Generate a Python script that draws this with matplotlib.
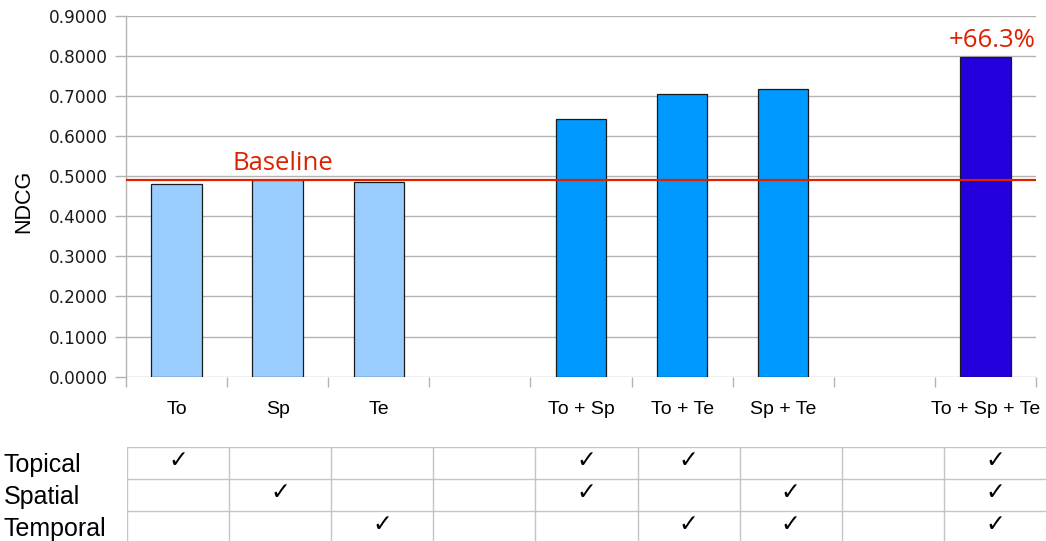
import matplotlib
matplotlib.use("Agg")
import matplotlib.pyplot as plt
from matplotlib.transforms import blended_transform_factory

# Data
categories = ["To", "Sp", "Te", "", "To + Sp", "To + Te", "Sp + Te", "", "To + Sp + Te"]
ndcg = [0.480, 0.490, 0.485, None, 0.642, 0.706, 0.7175, None, 0.798]
groups = ["single", "single", "single", None, "pair", "pair", "pair", None, "all"]
baseline_value = 0.490
improvement_label = "+66.3%"
feature_rows = ["Topical", "Spatial", "Temporal"]
feature_checks = [
    [1, 0, 0, 0, 1, 1, 0, 0, 1],
    [0, 1, 0, 0, 1, 0, 1, 0, 1],
    [0, 0, 1, 0, 0, 1, 1, 0, 1],
]
y_ticks = [0.0, 0.1, 0.2, 0.3, 0.4, 0.5, 0.6, 0.7, 0.8, 0.9]

group_colors = {"single": "#99CCFF", "pair": "#0099FF", "all": "#2300DC"}
red = "#DD2200"
grid_gray = "#B3B3B3"

W, H = 1046, 541
fig = plt.figure(figsize=(W / 100, H / 100), dpi=100)

# Main bar chart
ax = fig.add_axes([126 / W, 1 - 376.7 / H, 910 / W, 361 / H])
n = len(categories)
for i, (v, g) in enumerate(zip(ndcg, groups)):
    if v is None:
        continue
    ax.bar(i + 0.5, v, width=0.5, color=group_colors[g],
           edgecolor="#1a1a1a", linewidth=0.9, zorder=2)

ax.set_xlim(0, n)
ax.set_ylim(0, 0.9)
ax.set_yticks(y_ticks)
ax.set_yticklabels([f"{t:.4f}" for t in y_ticks])
ax.yaxis.grid(True, color=grid_gray, linewidth=1.0)
ax.set_axisbelow(True)

# Category boundaries as major ticks, labels at the slot centres
ax.set_xticks(range(n + 1))
ax.set_xticklabels([])
ax.set_xticks([i + 0.5 for i in range(n)], minor=True)
ax.set_xticklabels(categories, minor=True, fontsize=14, family="Liberation Sans")
ax.tick_params(axis="x", which="major", length=7.5, color=grid_gray, width=1.0)
ax.tick_params(axis="x", which="minor", length=0, pad=17.5)
ax.tick_params(axis="y", length=8, color=grid_gray, width=1.0, pad=5,
               labelsize=12.2)
for lab in ax.get_yticklabels():
    lab.set_family("DejaVu Sans")
    lab.set_color("#1a1a1a")

for side in ["top", "right", "bottom"]:
    ax.spines[side].set_visible(False)
ax.spines["left"].set_color(grid_gray)
ax.spines["left"].set_linewidth(1.0)

# Baseline reference line and annotations
ax.axhline(baseline_value, color=red, linewidth=1.6, zorder=3)
ax.annotate("Baseline", xy=(1.55, baseline_value), xytext=(0, 7),
            textcoords="offset points", ha="center", va="baseline",
            color=red, fontsize=18.5, family="Open Sans")
ax.annotate(improvement_label, xy=(8.5, ndcg[-1]), xytext=(4.5, 7),
            textcoords="offset points", ha="center", va="baseline",
            color=red, fontsize=18.5, family="Open Sans", annotation_clip=False)

fig.text(24 / W, 1 - 201 / H, "NDCG", rotation=90, ha="center", va="center",
         fontsize=15.5, family="Liberation Sans")

# Feature table below the chart
tab = fig.add_axes([127 / W, 1 - 543 / H, (W - 127) / W, 96.3 / H])
tab.set_xlim(0, n)
tab.set_ylim(len(feature_rows), 0)
tab.axis("off")
table_gray = "#C4C4C4"
for r in range(len(feature_rows)):
    tab.axhline(r, color=table_gray, linewidth=1.0)
for c in range(n):
    tab.axvline(c, color=table_gray, linewidth=1.0)

label_tf = blended_transform_factory(fig.transFigure, tab.transData)
for r, name in enumerate(feature_rows):
    tab.text(4 / W, r + 0.5, name, transform=label_tf, ha="left",
             va="center_baseline", fontsize=18, family="Liberation Sans")
    for c, flag in enumerate(feature_checks[r]):
        if flag:
            tab.text(c + 0.5, r + 0.42, "\u2713", ha="center", va="center",
                     fontsize=17, family="DejaVu Sans")

fig.savefig("out.png", dpi=100)
